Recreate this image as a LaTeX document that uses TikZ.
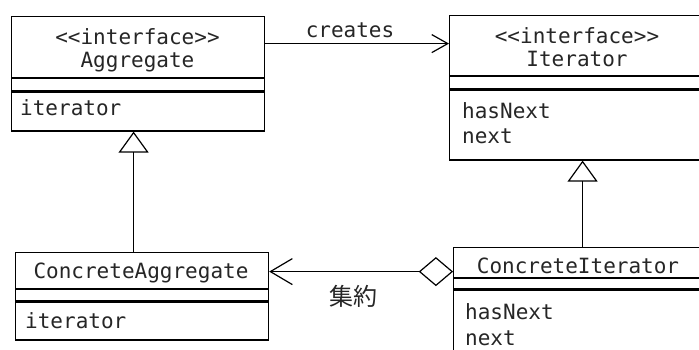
\documentclass[tikz,border=0pt]{standalone}
\usepackage{fontspec}
\setmonofont{DejaVu Sans Mono}
\newfontfamily\cjk{Noto Sans CJK JP}
\usetikzlibrary{arrows.meta,shapes.geometric}

\begin{document}
\begin{tikzpicture}[x=1pt,y=-1pt,
  compart/.style={draw, line width=1.2pt, rectangle, inner sep=0pt, anchor=north west},
  txt/.style={font=\ttfamily\fontsize{21}{25}\selectfont, inner sep=0pt, text=black!85},
  conn/.style={line width=1.2pt},
  inherit/.style={conn, -{Triangle[open, length=21pt, width=30pt, line width=1.2pt]}}
]
\useasboundingbox (0,0) rectangle (699,349);
\fill[white] (0,0) rectangle (699,349);
\begin{scope}
\clip (0,0) rectangle (699,349);

% Aggregate (interface)
\node[compart, minimum width=253pt, minimum height=61pt] (aggname) at (11,16) {};
\node[compart, minimum width=253pt, minimum height=12pt] (aggattr) at (aggname.south west) {};
\node[compart, minimum width=253pt, minimum height=39pt] (aggops) at (aggattr.south west) {};
\node[txt, anchor=base] (aggst) at (137.5,44) {<<interface>>};
\node[txt, anchor=base] (aggnm) at (137.5,67) {Aggregate};
\node[txt, anchor=base west] (aggop) at (20,115) {iterator};

% Iterator (interface)
\node[compart, minimum width=256pt, minimum height=60pt] (itername) at (449,15) {};
\node[compart, minimum width=256pt, minimum height=12pt] (iterattr) at (itername.south west) {};
\node[compart, minimum width=256pt, minimum height=70pt] (iterops) at (iterattr.south west) {};
\node[txt, anchor=base] (iterst) at (577,43) {<<interface>>};
\node[txt, anchor=base] (iternm) at (577,66) {Iterator};
\node[txt, anchor=base west] (iterop1) at (462,118) {hasNext};
\node[txt, anchor=base west] (iterop2) at (462,143) {next};

% ConcreteAggregate
\node[compart, minimum width=253pt, minimum height=36pt] (caname) at (15,252) {};
\node[compart, minimum width=253pt, minimum height=11pt] (caattr) at (caname.south west) {};
\node[compart, minimum width=253pt, minimum height=38pt] (caops) at (caattr.south west) {};
\node[txt, anchor=base] (canm) at (141,278) {ConcreteAggregate};
\node[txt, anchor=base west] (caop) at (25,328) {iterator};

% ConcreteIterator
\node[compart, minimum width=252pt, minimum height=30pt] (ciname) at (453,247) {};
\node[compart, minimum width=252pt, minimum height=10pt] (ciattr) at (ciname.south west) {};
\node[compart, minimum width=252pt, minimum height=93pt] (ciops) at (ciattr.south west) {};
\node[txt, anchor=base] (cinm) at (578,273) {ConcreteIterator};
\node[txt, anchor=base west] (ciop1) at (465,319) {hasNext};
\node[txt, anchor=base west] (ciop2) at (465,345) {next};

% creates dependency
\draw[conn, -{Straight Barb[length=16pt, width=18pt, line width=1.2pt]}]
  ([yshift=3.5pt]aggname.east) -- ([yshift=3.5pt]aggname.east -| itername.west);
\node[txt, anchor=base] (creates) at (350,37) {creates};

% generalisations
\draw[inherit] ([xshift=-8.5pt]caname.north) -- ([xshift=-4.5pt]aggops.south);
\draw[inherit] ([xshift=3pt]ciname.north) -- ([xshift=5pt]iterops.south);

% aggregation
\node[diamond, draw, line width=1.2pt, minimum width=33pt, minimum height=28pt,
      inner sep=0pt, anchor=east, fill=white] (dia) at ([yshift=-9pt]ciname.west) {};
\draw[conn, -{Straight Barb[length=22pt, width=26pt, line width=1.2pt]}]
  (dia.west) -- (dia.west -| caname.east);
\node[font=\cjk\fontsize{24}{28}\selectfont, inner sep=0pt, text=black!85] (agglabel) at (353,296) {集約};
\end{scope}
\end{tikzpicture}
\end{document}
